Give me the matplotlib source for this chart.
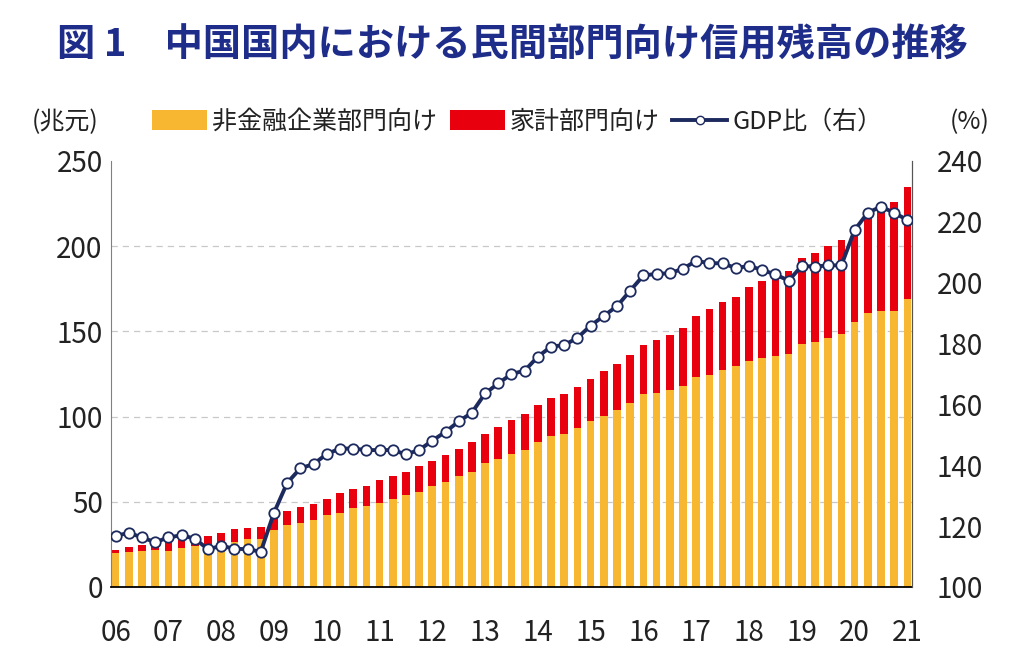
import numpy as np
import matplotlib.pyplot as plt
from matplotlib.patches import Patch
from matplotlib.lines import Line2D

plt.rcParams['font.family'] = ['Noto Sans CJK JP', 'DejaVu Sans']

# quarterly, 2006Q1 - 2021Q1
year_labels = ['06', '07', '08', '09', '10', '11', '12', '13', '14', '15',
               '16', '17', '18', '19', '20', '21']

# non-financial corporate credit (trillion yuan)
corporate = [19.8, 20.6, 21.4, 21.6, 21.4, 22.7, 24.1, 24.7, 25.5, 26.5,
             28.0, 28.4, 33.3, 36.2, 37.8, 39.2, 42.0, 43.7, 46.1, 47.8,
             49.4, 51.8, 53.7, 55.7, 59.4, 61.6, 65.3, 67.5, 72.7, 75.1,
             78.2, 80.6, 85.0, 88.4, 90.0, 93.3, 97.4, 100.6, 103.7, 108.0,
             113.1, 114.1, 115.9, 118.0, 123.1, 124.7, 127.3, 129.6, 132.9, 134.5,
             135.7, 136.5, 142.4, 143.9, 146.3, 148.2, 155.5, 160.6, 162.0, 162.0,
             168.8]
# household credit (trillion yuan)
household = [2.2, 3.1, 3.0, 2.9, 5.1, 4.9, 3.9, 5.5, 6.4, 7.4,
             6.5, 7.1, 7.0, 8.3, 9.0, 9.4, 9.8, 11.4, 11.4, 11.6,
             13.3, 13.3, 13.9, 15.1, 14.7, 15.9, 15.5, 17.5, 17.3, 18.9,
             20.0, 21.0, 21.6, 22.4, 23.2, 24.2, 24.9, 26.0, 26.9, 28.4,
             29.2, 30.6, 32.2, 34.1, 35.8, 38.2, 40.0, 40.8, 43.4, 45.1,
             45.9, 49.0, 50.5, 52.4, 53.9, 55.5, 56.0, 59.0, 61.5, 64.0,
             66.2]
# ratio to GDP (%, right axis)
gdp_ratio = [116.8, 117.8, 116.3, 114.7, 116.3, 117.0, 115.9, 112.4, 113.5, 112.6,
             112.4, 111.6, 124.4, 134.2, 139.0, 140.4, 143.7, 145.5, 145.5, 145.0,
             145.0, 145.0, 143.6, 145.0, 148.1, 151.0, 154.4, 157.3, 163.6, 166.9,
             170.0, 171.1, 175.7, 179.0, 179.5, 181.9, 185.9, 189.1, 192.3, 197.4,
             202.4, 202.9, 203.1, 204.6, 207.2, 206.4, 206.4, 204.8, 205.5, 204.2,
             202.7, 200.7, 205.5, 205.3, 205.7, 205.7, 217.3, 223.0, 225.0, 223.0,
             220.6]

x = np.arange(len(corporate))
yellow = '#F7B731'
red = '#E8000F'
navy = '#1C2A5E'

fig = plt.figure(figsize=(10.24, 6.65), dpi=100)
ax = fig.add_axes([0.1084, 0.1173, 0.7822, 0.6406])

ax.bar(x, corporate, width=0.58, color=yellow, zorder=2)
ax.bar(x, household, width=0.58, bottom=corporate, color=red, zorder=2)

ax.set_ylim(0, 250)
ax.set_yticks([0, 50, 100, 150, 200, 250])
ax.set_xlim(-0.35, 60.35)
ax.set_xticks(x[::4])
ax.set_xticklabels(year_labels)
ax.tick_params(axis='both', length=0, labelsize=20, colors='#222222')
ax.tick_params(axis='x', pad=22)
ax.tick_params(axis='y', pad=6)
for v in [50, 100, 150, 200]:
    ax.axhline(v, color='#C8C8C8', linestyle=(0, (5, 4)), linewidth=0.9, zorder=1)

ax.spines['top'].set_visible(False)
ax.spines['left'].set_color('#808080')
ax.spines['right'].set_color('#555555')
ax.spines['bottom'].set_color('#000000')
ax.spines['bottom'].set_linewidth(1.3)

ax2 = ax.twinx()
ax2.plot(x, gdp_ratio, color=navy, linewidth=2.8, marker='o', markersize=7.5,
         markerfacecolor='white', markeredgecolor=navy, markeredgewidth=1.3, zorder=3)
ax2.set_ylim(100, 240)
ax2.set_yticks(range(100, 241, 20))
ax2.tick_params(axis='y', length=0, labelsize=20, colors='#222222', pad=18)
ax2.spines['top'].set_visible(False)
ax2.spines['left'].set_visible(False)
ax2.spines['bottom'].set_visible(False)
ax2.spines['right'].set_color('#555555')

fig.text(0.50, 0.932, '図 1　中国国内における民間部門向け信用残高の推移',
         ha='center', va='center', fontsize=27.5, fontweight='bold', color='#1E2C8A')
fig.text(0.064, 0.817, '(兆元)', ha='center', va='center', fontsize=18, color='#222222')
fig.text(0.947, 0.817, '(%)', ha='center', va='center', fontsize=18, color='#222222')

handles = [
    Patch(facecolor=yellow, edgecolor='none'),
    Patch(facecolor=red, edgecolor='none'),
    Line2D([0], [0], color=navy, linewidth=2.8, marker='o', markersize=6,
           markerfacecolor='white', markeredgecolor=navy),
]
labels = ['非金融企業部門向け', '家計部門向け', 'GDP比（右）']
fig.legend(handles, labels, loc='center', bbox_to_anchor=(0.505, 0.817), ncol=3,
           frameon=False, fontsize=18, handlelength=2.2, handleheight=0.8,
           handletextpad=0.2, columnspacing=0.5, labelcolor='#222222')

fig.savefig('out.png', dpi=100)
